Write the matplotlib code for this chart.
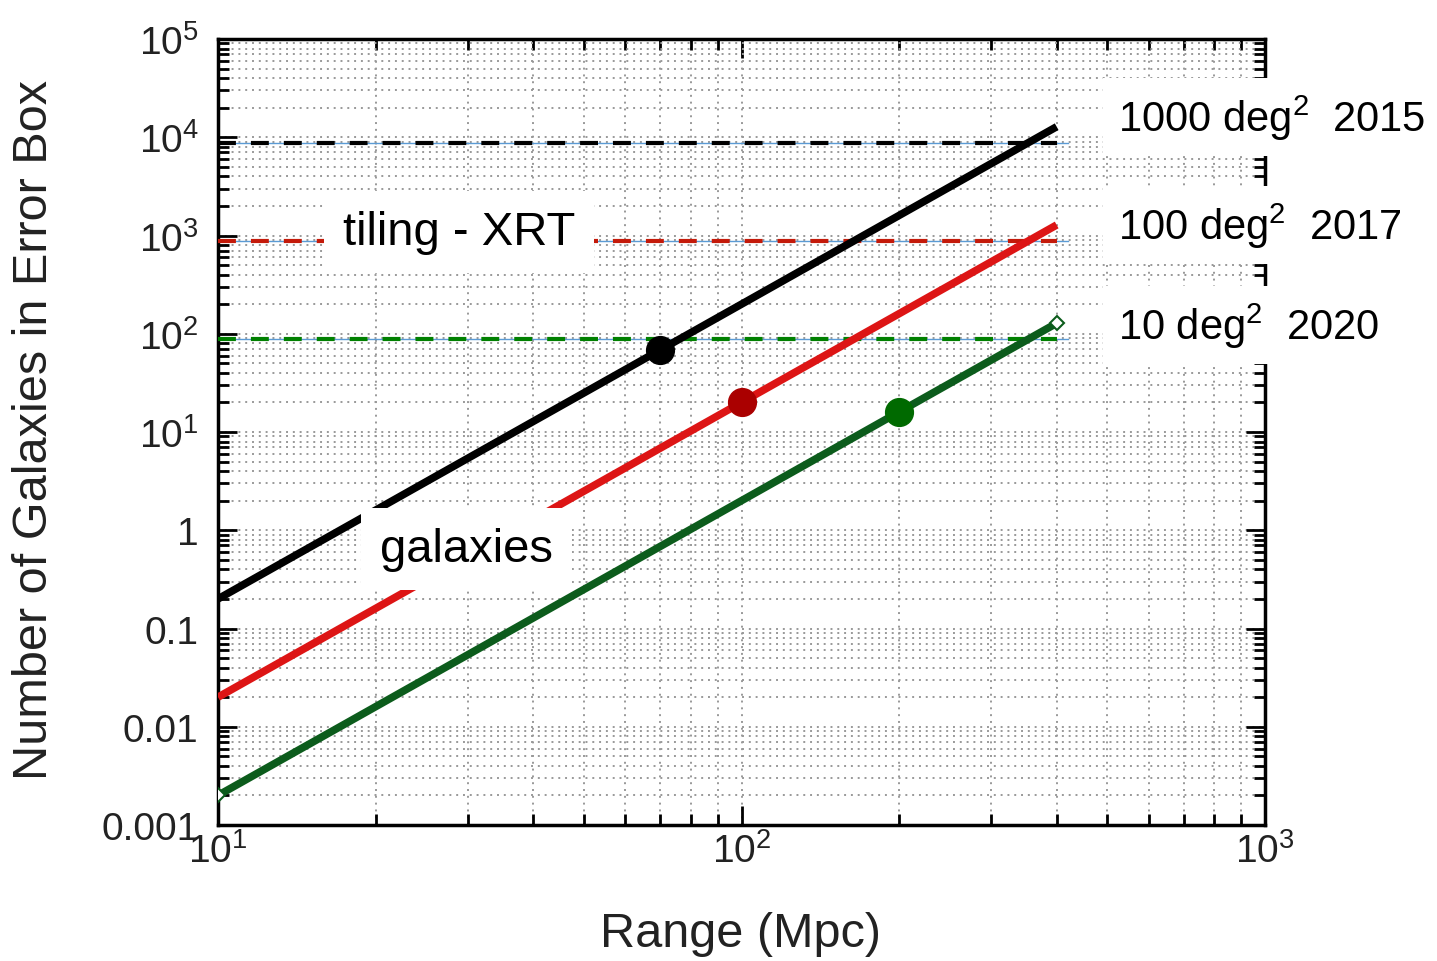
import matplotlib.pyplot as plt
from matplotlib.ticker import FixedLocator, FixedFormatter, NullFormatter

plt.rcParams['font.family'] = ['Liberation Sans', 'DejaVu Sans']
plt.rcParams['mathtext.fontset'] = 'custom'
plt.rcParams['mathtext.rm'] = 'Liberation Sans'

# data
range_mpc = [10, 400]
gal_1000 = [0.2, 12800]
gal_100 = [0.02, 1280]
gal_10 = [0.002, 128]

tiling_x = [10, 400]
tiling_levels = [8800, 880, 88]
guide_x = [10, 420]

dot_x = [70, 100, 200]
dot_y = [68.6, 20, 16]

labels_right = [r'1000 deg$\mathregular{^{2}}$  2015',
                r'100 deg$\mathregular{^{2}}$  2017',
                r'10 deg$\mathregular{^{2}}$  2020']

xticks = [10, 100, 1000]
xticklabels = [r'$\mathregular{10^{1}}$', r'$\mathregular{10^{2}}$', r'$\mathregular{10^{3}}$']
yticks = [1e-3, 1e-2, 1e-1, 1, 1e1, 1e2, 1e3, 1e4, 1e5]
yticklabels = ['0.001', '0.01', '0.1', '1',
               r'$\mathregular{10^{1}}$', r'$\mathregular{10^{2}}$', r'$\mathregular{10^{3}}$',
               r'$\mathregular{10^{4}}$', r'$\mathregular{10^{5}}$']

W, H = 1437, 962
fig = plt.figure(figsize=(W / 100, H / 100), dpi=100)
ax = fig.add_axes([218 / W, 1 - 826 / H, (1265 - 218) / W, (826 - 40) / H])
ax.set_xscale('log')
ax.set_yscale('log')
ax.set_xlim(10, 1000)
ax.set_ylim(1e-3, 1e5)

# tiling levels (dashed) with thin blue guide underneath
dash_colors = ['#000000', '#c41a0a', '#008000']
for lvl, c in zip(tiling_levels, dash_colors):
    ax.plot(guide_x, [lvl, lvl], color='#5b9bd5', lw=1.0, zorder=3)
    ax.plot(tiling_x, [lvl, lvl], color=c, lw=3, dashes=(4.3, 3.6), zorder=4)

# galaxy counts
ax.plot(range_mpc, gal_1000, color='#000000', lw=5.5, zorder=5, solid_capstyle='butt')
ax.plot(range_mpc, gal_100, color='#dd1515', lw=5.5, zorder=5, solid_capstyle='butt')
ax.plot(range_mpc, gal_10, color='#0c5c1c', lw=5.5, zorder=5, solid_capstyle='butt',
        marker='D', markersize=7, mfc='white', mec='#0c5c1c', mew=1.5)

dot_colors = ['#000000', '#aa0000', '#006a00']
for xx, yy, c in zip(dot_x, dot_y, dot_colors):
    ax.plot([xx], [yy], 'o', color=c, markersize=20, zorder=6)

# grid and ticks
ax.set_axisbelow(True)
ax.grid(which='both', linestyle=(0, (1, 2.5)), color='#999999', lw=1.4)
ax.xaxis.set_major_locator(FixedLocator(xticks))
ax.xaxis.set_major_formatter(FixedFormatter(xticklabels))
ax.xaxis.set_minor_formatter(NullFormatter())
ax.yaxis.set_major_locator(FixedLocator(yticks))
ax.yaxis.set_major_formatter(FixedFormatter(yticklabels))
ax.yaxis.set_minor_formatter(NullFormatter())
ax.tick_params(which='both', direction='in', top=True, right=True, width=2,
               labelsize=28, labelcolor='#222222')
ax.tick_params(which='major', length=14)
ax.tick_params(axis='y', which='major', pad=14)
ax.tick_params(axis='x', which='major', pad=5)
ax.tick_params(which='minor', length=8)
for s in ax.spines.values():
    s.set_linewidth(2.5)

# annotations with white boxes
box = dict(boxstyle='square,pad=0.35', fc='white', ec='none')
fig.text(343 / W, 1 - 233 / H, 'tiling - XRT', fontsize=34, va='center', ha='left',
         bbox=dict(boxstyle='square,pad=0.4', fc='white', ec='none'))
fig.text(380 / W, 1 - 550 / H, 'galaxies', fontsize=34, va='center', ha='left',
         bbox=dict(boxstyle='square,pad=0.4', fc='white', ec='none'))
for lab, yc in zip(labels_right, [118, 226, 326]):
    fig.text(1118 / W, 1 - yc / H, lab, fontsize=30, va='center', ha='left', bbox=box)

fig.text(35 / W, 1 - 430 / H, 'Number of Galaxies in Error Box', fontsize=35,
         rotation=90, ha='center', va='center', color='#222222')
fig.text(740 / W, 1 - 935 / H, 'Range (Mpc)', fontsize=35,
         ha='center', va='center', color='#222222')

fig.savefig('out.png', dpi=100)
